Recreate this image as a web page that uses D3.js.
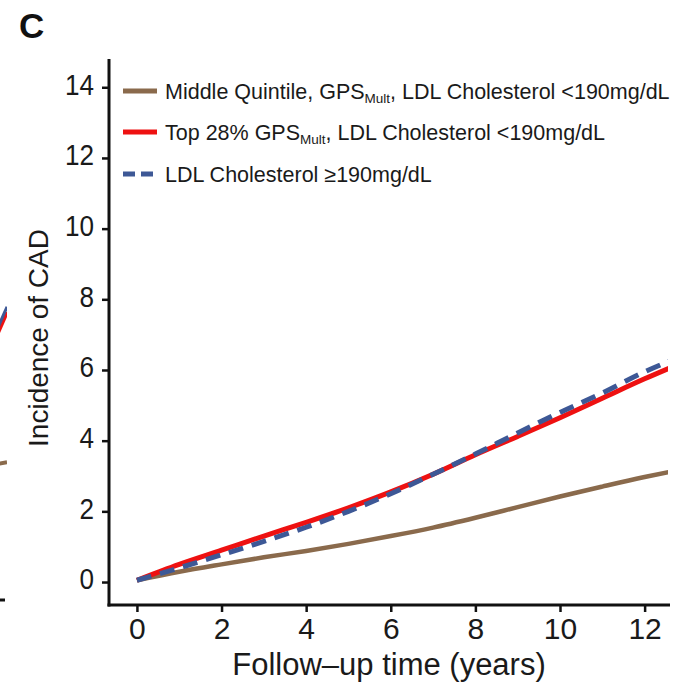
<!DOCTYPE html>
<html>
<head>
<meta charset="utf-8">
<script src="https://cdn.jsdelivr.net/npm/d3@7"></script>
<style>
  html, body { margin: 0; padding: 0; background: #fff; }
  svg { display: block; font-family: "Liberation Sans", Arial, sans-serif; }
</style>
</head>
<body>
<svg id="chart" width="694" height="682"></svg>
<script>
// Follow-up time (years) at which cumulative incidence was read
const years = [0, 1, 2, 3, 4, 5, 6, 7, 8, 9, 10, 11, 12, 12.6];

// Cumulative incidence of CAD (%) for each group
const middleQuintile = [0.05, 0.29, 0.50, 0.70, 0.88, 1.08, 1.30, 1.54, 1.82, 2.12, 2.42, 2.70, 2.97, 3.12];
const top28 = [0.05, 0.50, 0.90, 1.30, 1.69, 2.10, 2.55, 3.05, 3.60, 4.12, 4.65, 5.20, 5.75, 6.06];
const ldlHigh = [0.05, 0.40, 0.77, 1.15, 1.55, 2.00, 2.50, 3.05, 3.62, 4.22, 4.80, 5.35, 5.95, 6.26];

// Tail ends of the neighbouring panel that show at the left edge
const neighbourYears = [12.3, 12.6];
const neighbourTop28 = [6.65, 7.47];
const neighbourLdlHigh = [6.80, 7.62];
const neighbourMiddle = [3.16, 3.22];

const yTicks = [0, 2, 4, 6, 8, 10, 12, 14];
const xTicks = [0, 2, 4, 6, 8, 10, 12];

const legendLabels = [
  { pre: "Middle Quintile, GPS", sub: "Mult", post: ", LDL Cholesterol <190mg/dL" },
  { pre: "Top 28% GPS", sub: "Mult", post: ", LDL Cholesterol <190mg/dL" },
  { pre: "LDL Cholesterol \u2265190mg/dL", sub: "", post: "" }
];

const colors = { brown: "#8a6a4c", red: "#ee1111", blue: "#3d5896" };

const svg = d3.select("#chart");

const x = d3.scaleLinear().domain([-0.66, 12.6]).range([109, 670]);
const y = d3.scaleLinear().domain([-0.65, 14.8]).range([605, 59]);

// Plot clip so curves stop at the axis end
const defs = svg.append("defs");
defs.append("clipPath").attr("id", "plotClip")
  .append("rect").attr("x", 110).attr("y", 50).attr("width", 558).attr("height", 555);
defs.append("clipPath").attr("id", "edgeClip")
  .append("rect").attr("x", 0).attr("y", 0).attr("width", 7).attr("height", 682);

// Panel letter
svg.append("text").attr("x", 19).attr("y", 38)
  .attr("font-size", 35).attr("font-weight", "bold").attr("fill", "#111").text("C");

// Neighbour panel tails at the left edge
const nb = svg.append("g").attr("clip-path", "url(#edgeClip)")
  .append("g").attr("transform", "translate(-663,-6)");
const nbLine = d3.line().x((d, i) => x(neighbourYears[i])).y(d => y(d));
nb.append("path").datum(neighbourMiddle).attr("d", nbLine)
  .attr("fill", "none").attr("stroke", colors.brown).attr("stroke-width", 4);
nb.append("path").datum(neighbourTop28).attr("d", nbLine)
  .attr("fill", "none").attr("stroke", colors.red).attr("stroke-width", 4);
nb.append("path").datum(neighbourLdlHigh).attr("d", nbLine)
  .attr("fill", "none").attr("stroke", colors.blue).attr("stroke-width", 3);
svg.append("g").attr("clip-path", "url(#edgeClip)")
  .append("line").attr("x1", -20).attr("x2", 5).attr("y1", 600).attr("y2", 600)
  .attr("stroke", "#111").attr("stroke-width", 3);

// Axes
const yAxis = svg.append("g").attr("transform", "translate(109,0)")
  .call(d3.axisLeft(y).tickValues(yTicks).tickSize(7).tickPadding(5).tickSizeOuter(0));
const xAxis = svg.append("g").attr("transform", "translate(0,605)")
  .call(d3.axisBottom(x).tickValues(xTicks).tickSize(7).tickPadding(6).tickSizeOuter(0));

[yAxis, xAxis].forEach(g => {
  g.select(".domain").attr("stroke", "#111").attr("stroke-width", 3);
  g.selectAll(".tick line").attr("stroke", "#111").attr("stroke-width", 2.5);
  g.selectAll(".tick text").attr("fill", "#1a1a1a")
    .attr("font-family", "Liberation Sans, Arial, sans-serif");
});
yAxis.select(".domain").attr("d", `M0,${y(14.8)}V${y(-0.65) + 1.5}`);
xAxis.select(".domain").attr("d", `M${x(-0.66) - 1.5},0H${x(12.6)}`);
// y numerals slightly condensed
yAxis.selectAll(".tick text").attr("font-size", 29)
  .attr("transform", "scale(0.9,1)").attr("x", -15 / 0.9).attr("dy", "0.24em");
xAxis.selectAll(".tick text").attr("font-size", 30).attr("dy", "0.7em");

// Axis titles
svg.append("text").attr("x", 389).attr("y", 675)
  .attr("text-anchor", "middle").attr("font-size", 31).attr("fill", "#1a1a1a")
  .text("Follow\u2013up time (years)");
svg.append("text").attr("transform", "translate(48,338) rotate(-90)")
  .attr("text-anchor", "middle").attr("font-size", 28).attr("fill", "#1a1a1a")
  .text("Incidence of CAD");

// Curves
const line = d3.line().x((d, i) => x(years[i])).y(d => y(d)).curve(d3.curveMonotoneX);
const plot = svg.append("g").attr("clip-path", "url(#plotClip)");
plot.append("path").datum(middleQuintile).attr("d", line)
  .attr("fill", "none").attr("stroke", colors.brown).attr("stroke-width", 4.5);
plot.append("path").datum(top28).attr("d", line)
  .attr("fill", "none").attr("stroke", colors.red).attr("stroke-width", 5);
plot.append("path").datum(ldlHigh).attr("d", line)
  .attr("fill", "none").attr("stroke", colors.blue).attr("stroke-width", 5)
  .attr("stroke-dasharray", "15,9");

// Legend
const legendColors = [colors.brown, colors.red, colors.blue];
const legendY = [91, 132, 174];
const lg = svg.append("g");
legendLabels.forEach((lab, i) => {
  const row = lg.append("g").attr("transform", `translate(0,${legendY[i]})`);
  const ln = row.append("line").attr("x1", 123).attr("x2", 157).attr("y1", 0).attr("y2", 0)
    .attr("stroke", legendColors[i]).attr("stroke-width", 5);
  if (i === 2) ln.attr("stroke-dasharray", "12,6");
  const t = row.append("text").attr("x", 165).attr("y", 0).attr("dy", "0.36em")
    .attr("font-size", 21.5).attr("fill", "#1a1a1a");
  t.append("tspan").text(lab.pre);
  if (lab.sub) {
    t.append("tspan").attr("font-size", 13.5).attr("dy", 4).text(lab.sub);
    t.append("tspan").attr("dy", -4).text(lab.post);
  }
});
</script>
</body>
</html>
